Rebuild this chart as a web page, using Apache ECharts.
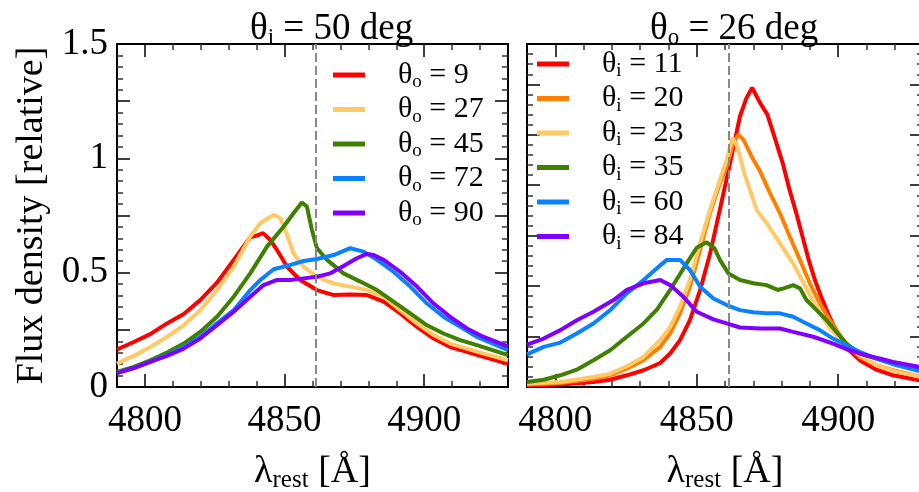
<!DOCTYPE html>
<html>
<head>
<meta charset="utf-8">
<script src="https://cdn.jsdelivr.net/npm/echarts@6/dist/echarts.min.js"></script>
<style>
html, body { margin: 0; padding: 0; background: #fff; }
#chart { width: 919px; height: 492px; }
</style>
</head>
<body>
<div id="chart"></div>
<script>
// wavelength axis (Å) and reference line
const xMin = 4790;
const xMax = 4930;
const xMajor = [4800, 4850, 4900];
const xMinor = [4810, 4820, 4830, 4840, 4860, 4870, 4880, 4890, 4910, 4920];
const hBeta = 4861.3;
const yLabelValues = [0, 0.5, 1, 1.5];

// left panel: theta_i = 50 deg, varying theta_o
const leftNames = ['θo = 9', 'θo = 27', 'θo = 45', 'θo = 72', 'θo = 90'];
const leftColors = ['#ff0000', '#ffc966', '#408000', '#0a82ff', '#8000ff'];

const leftO9 = [[4790,0.164],[4796,0.197],[4801.9,0.231],[4807.9,0.278],[4813.9,0.319],[4819.8,0.380],[4825.8,0.456],[4831.8,0.556],[4837.7,0.655],[4840,0.662],[4842.3,0.673],[4844.9,0.643],[4847.3,0.599],[4850.9,0.526],[4855.6,0.468],[4861.6,0.424],[4867.6,0.402],[4873.5,0.405],[4879.5,0.402],[4885.5,0.373],[4891.4,0.322],[4897.4,0.263],[4903.4,0.212],[4909.3,0.175],[4915.3,0.154],[4921.3,0.132],[4930,0.101]];
const leftO27 = [[4790,0.102],[4796,0.136],[4801.9,0.175],[4807.9,0.219],[4813.9,0.270],[4819.8,0.336],[4825.8,0.424],[4831.8,0.526],[4837.7,0.658],[4841.3,0.716],[4843.7,0.735],[4846.1,0.753],[4848.5,0.738],[4850.9,0.665],[4853.2,0.585],[4856.8,0.526],[4861.6,0.482],[4867.6,0.453],[4873.5,0.439],[4879.5,0.424],[4885.5,0.395],[4891.4,0.336],[4897.4,0.278],[4903.4,0.227],[4909.3,0.190],[4915.3,0.168],[4921.3,0.146],[4930,0.117]];
const leftO45 = [[4790,0.066],[4796,0.088],[4801.9,0.117],[4807.9,0.151],[4813.9,0.190],[4819.8,0.241],[4825.8,0.307],[4831.8,0.395],[4837.7,0.497],[4843.7,0.614],[4849.7,0.702],[4853.2,0.760],[4856.2,0.807],[4858.0,0.789],[4859.8,0.687],[4861.6,0.607],[4865.2,0.556],[4871.1,0.497],[4877.1,0.461],[4883.1,0.424],[4889.0,0.373],[4895.0,0.322],[4901.0,0.270],[4906.9,0.234],[4912.9,0.205],[4918.9,0.183],[4930,0.139]];
const leftO72 = [[4790,0.061],[4796,0.083],[4801.9,0.110],[4807.9,0.139],[4813.9,0.175],[4819.8,0.219],[4825.8,0.278],[4831.8,0.336],[4837.7,0.424],[4841.3,0.468],[4846.1,0.515],[4852.1,0.534],[4856.8,0.551],[4861.6,0.560],[4867.6,0.577],[4873.5,0.607],[4878.3,0.592],[4883.1,0.556],[4889.0,0.504],[4895.0,0.439],[4901.0,0.365],[4906.9,0.307],[4912.9,0.263],[4918.9,0.219],[4930,0.161]];
const leftO90 = [[4790,0.061],[4796,0.083],[4801.9,0.110],[4807.9,0.136],[4813.9,0.168],[4819.8,0.212],[4825.8,0.270],[4831.8,0.329],[4837.7,0.395],[4842.5,0.446],[4847.3,0.468],[4852.1,0.468],[4856.8,0.475],[4861.6,0.482],[4866.4,0.497],[4871.1,0.529],[4875.9,0.563],[4879.5,0.582],[4881.9,0.577],[4885.5,0.556],[4891.4,0.504],[4897.4,0.439],[4903.4,0.365],[4909.3,0.307],[4915.3,0.256],[4921.3,0.219],[4930,0.178]];

// right panel: theta_o = 26 deg, varying theta_i
const rightNames = ['θi = 11', 'θi = 20', 'θi = 23', 'θi = 35', 'θi = 60', 'θi = 84'];
const rightColors = ['#ff0000', '#ff8000', '#ffc966', '#408000', '#0a82ff', '#8000ff'];

const rightI11 = [[4790,0.008],[4801.8,0.012],[4813.5,0.025],[4819.4,0.036],[4825.3,0.058],[4831.2,0.083],[4837.1,0.119],[4840.6,0.166],[4844.1,0.232],[4847.6,0.331],[4851.2,0.480],[4854.7,0.660],[4858.2,0.880],[4861.8,1.110],[4865.3,1.342],[4867.6,1.433],[4869.6,1.483],[4872.4,1.408],[4875.0,1.350],[4877.8,1.226],[4880.4,1.110],[4882.8,0.978],[4885.2,0.862],[4887.4,0.746],[4889.6,0.630],[4891.8,0.530],[4894.0,0.447],[4896.4,0.365],[4899.8,0.265],[4903.2,0.191],[4907.6,0.133],[4913.5,0.086],[4919.4,0.058],[4930,0.030]];
const rightI20 = [[4790,0.012],[4801.8,0.020],[4813.5,0.041],[4819.4,0.058],[4825.3,0.091],[4831.2,0.133],[4837.1,0.199],[4840.6,0.265],[4844.1,0.365],[4847.6,0.497],[4851.2,0.679],[4854.7,0.862],[4858.2,1.011],[4860.6,1.094],[4862.9,1.210],[4864.7,1.251],[4866.5,1.226],[4870,1.127],[4872.4,1.069],[4875.9,0.961],[4879.4,0.862],[4882.9,0.746],[4886.5,0.630],[4890,0.514],[4893.5,0.414],[4897.1,0.331],[4901.8,0.232],[4907.6,0.149],[4913.5,0.108],[4919.4,0.083],[4930,0.048]];
const rightI23 = [[4790,0.017],[4801.8,0.025],[4813.5,0.050],[4819.4,0.066],[4825.3,0.103],[4831.2,0.149],[4837.1,0.232],[4840.6,0.298],[4844.1,0.398],[4847.6,0.530],[4851.2,0.713],[4854.7,0.878],[4858.2,1.027],[4860.6,1.127],[4862.6,1.234],[4864.1,1.200],[4865.3,1.143],[4866.8,1.060],[4868.8,0.978],[4871.2,0.878],[4874.7,0.812],[4879.4,0.713],[4884.1,0.613],[4888,0.510],[4891,0.430],[4894,0.355],[4897.1,0.290],[4901.8,0.224],[4907.6,0.157],[4913.5,0.108],[4919.4,0.080],[4930,0.048]];
const rightI35 = [[4790,0.025],[4795.9,0.036],[4801.8,0.058],[4807.6,0.086],[4813.5,0.133],[4819.4,0.182],[4825.3,0.249],[4831.2,0.315],[4836,0.385],[4840.6,0.481],[4844.1,0.560],[4847,0.625],[4850,0.690],[4853.5,0.717],[4856.2,0.690],[4858.2,0.630],[4861.2,0.563],[4865.3,0.530],[4870,0.514],[4874.7,0.505],[4878.6,0.481],[4881,0.490],[4884.1,0.505],[4886.5,0.489],[4888.8,0.431],[4892.4,0.381],[4895.9,0.331],[4899.4,0.273],[4902.9,0.215],[4907.6,0.166],[4913.5,0.141],[4919.4,0.116],[4930,0.083]];
const rightI60 = [[4790,0.162],[4795.9,0.199],[4801.8,0.220],[4807.6,0.265],[4813.5,0.315],[4819.4,0.381],[4825.3,0.464],[4831.2,0.530],[4835.9,0.588],[4839.4,0.630],[4844.1,0.630],[4847.6,0.580],[4851.2,0.497],[4855.9,0.439],[4860.6,0.406],[4865.3,0.381],[4870,0.370],[4874.7,0.365],[4879.4,0.365],[4884.1,0.348],[4888.8,0.315],[4893.5,0.282],[4898.2,0.240],[4902.9,0.207],[4907.6,0.174],[4913.5,0.141],[4919.4,0.113],[4930,0.075]];
const rightI84 = [[4790,0.210],[4795.9,0.240],[4801.8,0.282],[4807.6,0.331],[4813.5,0.373],[4820.6,0.431],[4825.3,0.481],[4831.2,0.514],[4837.1,0.530],[4840.6,0.505],[4845.3,0.447],[4850,0.373],[4855.9,0.335],[4860.6,0.315],[4865.3,0.295],[4872.4,0.290],[4879.4,0.290],[4884.1,0.273],[4891.2,0.249],[4898.2,0.215],[4904.1,0.182],[4910,0.157],[4914.7,0.141],[4919.4,0.124],[4930,0.096]];

const leftData = [leftO9, leftO27, leftO45, leftO72, leftO90];
const rightData = [rightI11, rightI20, rightI23, rightI35, rightI60, rightI84];

const serif = 'Liberation Serif';
const chart = echarts.init(document.getElementById('chart'));

function subRich(size, subSize, lineH, subH) {
    return {
        m: { fontFamily: serif, fontSize: size, fontWeight: 'normal', color: '#000', lineHeight: lineH },
        s: { fontFamily: serif, fontSize: subSize, fontWeight: 'normal', color: '#000', lineHeight: subH, verticalAlign: 'bottom' }
    };
}

// four x axes per grid: major/minor ticks at bottom and top
function xAxesFor(grid) {
    const base = {
        type: 'value', gridIndex: grid, min: xMin, max: xMax,
        splitLine: { show: false }
    };
    const major = (pos, label) => Object.assign({}, base, {
        position: pos,
        axisLine: { show: true, onZero: false, lineStyle: { color: '#000', width: 2 } },
        axisTick: { show: true, inside: true, length: 13, customValues: xMajor, lineStyle: { color: '#000', width: 1.5 } },
        axisLabel: label ? {
            show: true, customValues: xMajor, margin: 16,
            formatter: v => String(v),
            fontFamily: serif, fontSize: 37, color: '#000'
        } : { show: false },
        name: label ? 'λ{s|rest} [Å]' : '',
        nameLocation: 'middle',
        nameGap: 64,
        nameTextStyle: { fontFamily: serif, fontSize: 38, color: '#000', lineHeight: 42, rich: { s: { fontFamily: serif, fontSize: 25, color: '#000', lineHeight: 24, verticalAlign: 'bottom' } } }
    });
    const minor = pos => Object.assign({}, base, {
        position: pos,
        axisLine: { show: false, onZero: false },
        axisTick: { show: true, inside: true, length: 6, customValues: xMinor, lineStyle: { color: '#333', width: 1.5 } },
        axisLabel: { show: false }
    });
    return [major('bottom', true), minor('bottom'), major('top', false), minor('top')];
}

function yAxesFor(grid, yMax, labels) {
    const base = {
        type: 'value', gridIndex: grid, min: 0, max: yMax, interval: 0.25,
        splitLine: { show: false },
        axisLine: { show: true, onZero: false, lineStyle: { color: '#000', width: 2 } },
        axisTick: { show: true, inside: true, length: 13, lineStyle: { color: '#000', width: 1.5 } },
        minorTick: { show: true, splitNumber: 5, length: 6, lineStyle: { color: '#333', width: 1.5 } }
    };
    const left = Object.assign({}, base, {
        position: 'left',
        axisLabel: labels ? {
            show: true, customValues: yLabelValues, margin: 9,
            fontFamily: serif, fontSize: 37, color: '#000'
        } : { show: false },
        name: labels ? 'Flux density [relative]' : '',
        nameLocation: 'middle',
        nameGap: 66,
        nameTextStyle: { fontFamily: serif, fontSize: 38, color: '#000' }
    });
    const right = Object.assign({}, base, { position: 'right', axisLabel: { show: false } });
    return [left, right];
}

// blank lead-in pushes the label away from the line sample
function legendFormatter(name) {
    return '{g|\u2003}{m|θ}{s|' + name.charAt(1) + '}{m|' + name.slice(2) + '}';
}

const legendRich = subRich(30, 19, 34, 19);
legendRich.g = { fontFamily: serif, fontSize: 28, lineHeight: 34 };

const series = [];
leftData.forEach((d, i) => {
    series.push({
        name: leftNames[i], type: 'line', xAxisIndex: 0, yAxisIndex: 0,
        data: d, symbol: 'none', color: leftColors[i],
        lineStyle: { width: 4, color: leftColors[i] },
        markLine: i === 0 ? {
            silent: true, symbol: 'none', label: { show: false },
            lineStyle: { type: [9, 4], color: '#888', width: 2 },
            data: [{ xAxis: hBeta }]
        } : undefined
    });
});
rightData.forEach((d, i) => {
    series.push({
        name: rightNames[i], type: 'line', xAxisIndex: 4, yAxisIndex: 2,
        data: d, symbol: 'none', color: rightColors[i],
        lineStyle: { width: 4, color: rightColors[i] },
        markLine: i === 0 ? {
            silent: true, symbol: 'none', label: { show: false },
            lineStyle: { type: [9, 4], color: '#888', width: 2 },
            data: [{ xAxis: hBeta }]
        } : undefined
    });
});

chart.setOption({
    animation: false,
    backgroundColor: '#fff',
    title: [
        { text: '{m|θ}{s|i}{m| = 50 deg}', left: 245, top: 4, textStyle: { fontWeight: 'normal', rich: subRich(37, 23, 40, 23) } },
        { text: '{m|θ}{s|o}{m| = 26 deg}', left: 645, top: 4, textStyle: { fontWeight: 'normal', rich: subRich(37, 23, 40, 23) } }
    ],
    legend: [
        {
            data: leftNames, orient: 'vertical', left: 333, top: 60, padding: 0,
            icon: 'rect', itemWidth: 32, itemHeight: 5, itemGap: 2.5,
            formatter: legendFormatter,
            textStyle: { fontFamily: serif, fontSize: 30, color: '#000', rich: legendRich },
            selectedMode: false
        },
        {
            data: rightNames, orient: 'vertical', left: 537, top: 49, padding: 0,
            icon: 'rect', itemWidth: 32, itemHeight: 5, itemGap: 2.5,
            formatter: legendFormatter,
            textStyle: { fontFamily: serif, fontSize: 30, color: '#000', rich: legendRich },
            selectedMode: false
        }
    ],
    grid: [
        { left: 117, right: 411, top: 44, bottom: 105, containLabel: false, outerBoundsMode: 'none' },
        { left: 527, right: -4, top: 44, bottom: 105, containLabel: false, outerBoundsMode: 'none' }
    ],
    xAxis: xAxesFor(0).concat(xAxesFor(1)),
    yAxis: yAxesFor(0, 1.5, true).concat(yAxesFor(1, 1.7, false)),
    series: series
});

window.addEventListener('resize', () => chart.resize());
</script>
</body>
</html>
